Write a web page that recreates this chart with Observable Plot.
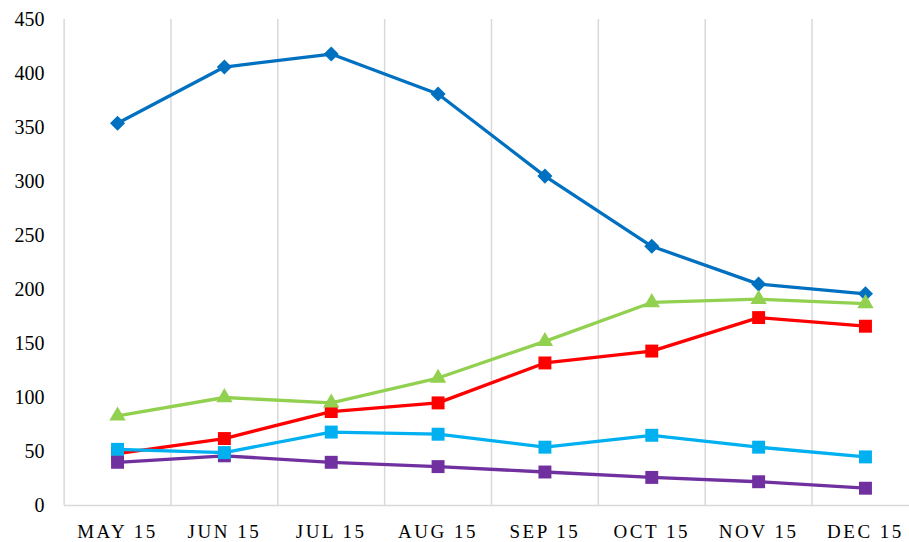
<!DOCTYPE html>
<html>
<head>
<meta charset="utf-8">
<script src="https://cdn.jsdelivr.net/npm/d3@7"></script>
<script src="https://cdn.jsdelivr.net/npm/@observablehq/plot@0.6"></script>
<style>
html, body { margin: 0; padding: 0; background: #fff; overflow: hidden; }
#chart svg { display: block; }
</style>
</head>
<body>
<div id="chart"></div>
<script>
const months = ["MAY 15", "JUN 15", "JUL 15", "AUG 15", "SEP 15", "OCT 15", "NOV 15", "DEC 15"];
const yTicks = [0, 50, 100, 150, 200, 250, 300, 350, 400, 450];

const blue   = [354, 406, 418, 381, 305, 240, 205, 196];
const red    = [48, 62, 87, 95, 132, 143, 174, 166];
const green  = [83, 100, 95, 118, 152, 188, 191, 187];
const purple = [40, 46, 40, 36, 31, 26, 22, 16];
const cyan   = [52, 49, 68, 66, 54, 65, 54, 45];

const series = [
  {name: "blue", values: blue, color: "#0070C0", symbol: "diamond2", r: 6.8},
  {name: "red", values: red, color: "#FF0000", symbol: "square", r: 7.3},
  {name: "green", values: green, color: "#92D050", symbol: "triangle2", r: 7.8},
  {name: "purple", values: purple, color: "#7030A0", symbol: "square", r: 7.3},
  {name: "cyan", values: cyan, color: "#00B0F0", symbol: "square", r: 7.3}
];

const marks = [
  Plot.ruleX(months.map((m, i) => i - 0.5), {stroke: "#d9d9d9", strokeWidth: 1.5, y1: 0, y2: 450}),
  Plot.ruleY([0], {stroke: "#d9d9d9", strokeWidth: 1.5}),
  Plot.axisY({ticks: yTicks, tickSize: 0, tickPadding: 20, fontSize: 20, fill: "#000", label: null}),
  Plot.axisX({ticks: months.map((m, i) => i), tickFormat: i => months[i], tickSize: 0, tickPadding: 19, fontSize: 19, fill: "#000", label: null})
];
for (const s of series) {
  const data = s.values.map((v, i) => ({i, v}));
  marks.push(Plot.line(data, {x: "i", y: "v", stroke: s.color, strokeWidth: 3.3}));
  marks.push(Plot.dot(data, {x: "i", y: "v", fill: s.color, symbol: s.symbol, r: s.r, stroke: "none"}));
}

const chart = Plot.plot({
  width: 909,
  height: 542,
  marginTop: 19,
  marginBottom: 37,
  marginLeft: 64,
  marginRight: 0,
  style: {fontFamily: "'Liberation Serif', serif", background: "#fff", overflow: "hidden"},
  x: {type: "linear", domain: [-0.5, 7.5], range: [63.6, 918.4], axis: null},
  y: {domain: [0, 450], range: [505, 19], axis: null},
  marks
});
document.getElementById("chart").appendChild(chart);
d3.select(chart).selectAll('[aria-label="x-axis tick label"] text').attr("letter-spacing", "2.5px");
</script>
</body>
</html>
